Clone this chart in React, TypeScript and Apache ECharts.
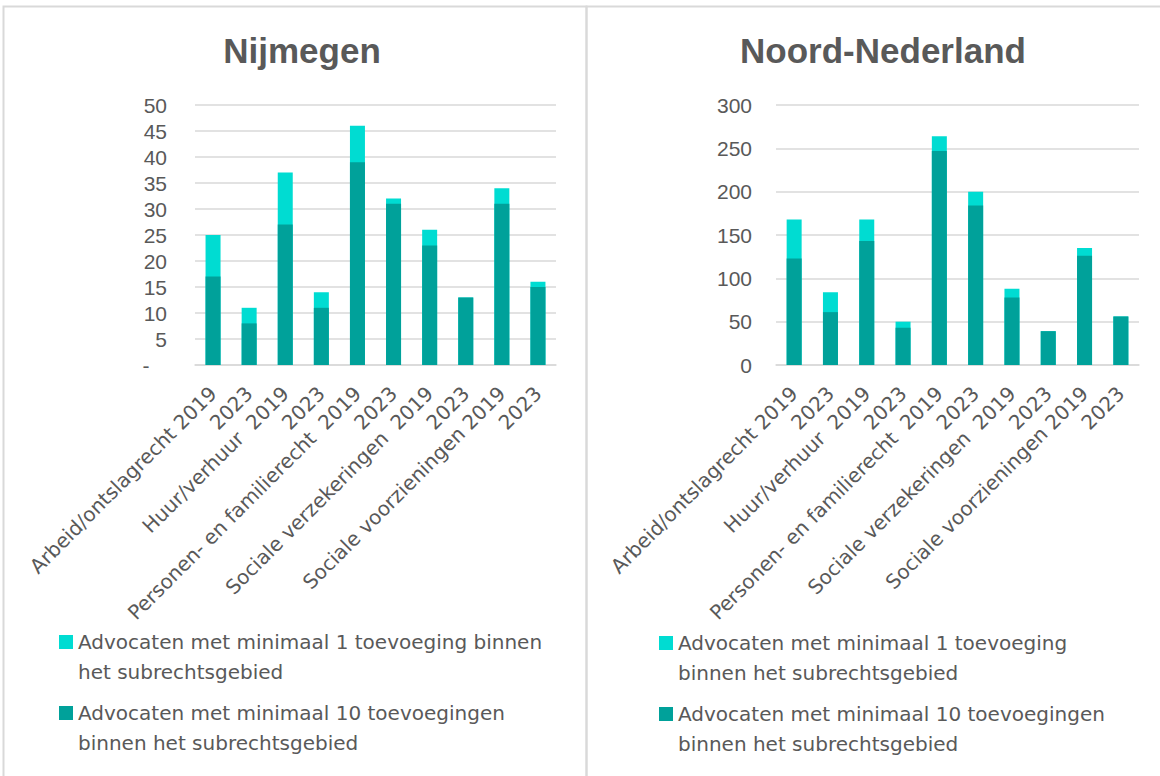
import React, { useEffect, useRef } from "react";
import * as echarts from "echarts";

const categories = [
  "Arbeid/ontslagrecht 2019",
  "2023",
  "Huur/verhuur  2019",
  "2023",
  "Personen- en familierecht  2019",
  "2023",
  "Sociale verzekeringen  2019",
  "2023",
  "Sociale voorzieningen 2019",
  "2023",
];

const nijmegenMin1 = [25, 11, 37, 14, 46, 32, 26, 13, 34, 16];
const nijmegenMin10 = [17, 8, 27, 11, 39, 31, 23, 13, 31, 15];
const noordMin1 = [168, 84, 168, 50, 264, 200, 88, 39, 135, 56];
const noordMin10 = [123, 61, 143, 43, 247, 184, 78, 39, 126, 56];

const titles = ["Nijmegen", "Noord-Nederland"];
const NAME1 = "Advocaten met minimaal 1 toevoeging binnen het subrechtsgebied";
const NAME10 = "Advocaten met minimaal 10 toevoegingen binnen het subrechtsgebied";

const LIGHT = "#00DCD2";
const DARK = "#00A19A";
const TEXT = "#595959";
const LINE = "#d9d9d9";
const FONT = "'Liberation Sans', Arial, sans-serif";
const WIDE = "'DejaVu Sans', Verdana, sans-serif";

export default function App() {
  const ref = useRef<HTMLDivElement>(null);
  useEffect(() => {
    if (!ref.current) return;
    const chart = echarts.init(ref.current, undefined, { renderer: "svg" });

    const wrapLeft: Record<string, string> = {
      [NAME1]: "Advocaten met minimaal 1 toevoeging binnen\nhet subrechtsgebied",
      [NAME10]: "Advocaten met minimaal 10 toevoegingen\nbinnen het subrechtsgebied",
    };
    const wrapRight: Record<string, string> = {
      [NAME1]: "Advocaten met minimaal 1 toevoeging\nbinnen het subrechtsgebied",
      [NAME10]: "Advocaten met minimaal 10 toevoegingen\nbinnen het subrechtsgebied",
    };

    const legendBase = {
      orient: "vertical",
      padding: 0,
      itemWidth: 14,
      itemHeight: 44,
      itemGap: 11,
      icon: "path://M0,0H14V14H0Z M0,44L0,44",
      selectedMode: false,
      data: [NAME1, NAME10],
      textStyle: { fontSize: 20, lineHeight: 30, color: TEXT, fontFamily: WIDE },
    };

    const xAxisBase = (gridIndex: number) => ({
      gridIndex,
      type: "category",
      data: categories,
      axisTick: { show: false },
      axisLine: { lineStyle: { color: LINE, width: 1.5 } },
      axisLabel: { rotate: 45, fontSize: 20, color: TEXT, margin: 25, interval: 0, fontFamily: WIDE },
    });

    const barBase = (name: string, color: string, data: number[], idx: number) => ({
      name,
      type: "bar",
      xAxisIndex: idx,
      yAxisIndex: idx,
      data,
      barWidth: 15,
      barGap: "-100%",
      itemStyle: { color },
    });

    chart.setOption({
      animation: false,
      textStyle: { fontFamily: FONT },
      title: [
        {
          text: titles[0],
          left: 297,
          top: 28,
          textAlign: "center",
          textStyle: { fontSize: 35, fontWeight: "bold", color: TEXT, fontFamily: FONT },
        },
        {
          text: titles[1],
          left: 878,
          top: 28,
          textAlign: "center",
          textStyle: { fontSize: 35, fontWeight: "bold", color: TEXT, fontFamily: FONT },
        },
      ],
      legend: [
        { ...legendBase, left: 59, top: 627, formatter: (n: string) => wrapLeft[n] },
        { ...legendBase, left: 659, top: 628, formatter: (n: string) => wrapRight[n] },
      ],
      grid: [
        { left: 195, top: 105, width: 361, height: 260 },
        { left: 776, top: 105, width: 363, height: 260 },
      ],
      xAxis: [xAxisBase(0), xAxisBase(1)],
      yAxis: [
        {
          gridIndex: 0,
          type: "value",
          min: 0,
          max: 50,
          interval: 5,
          axisLine: { show: false },
          axisTick: { show: false },
          splitLine: { lineStyle: { color: LINE, width: 1.5 } },
          axisLabel: {
            fontSize: 21,
            color: TEXT,
            margin: 28,
            fontFamily: FONT,
            formatter: (v: number) => (v === 0 ? "-   " : String(v)),
          },
        },
        {
          gridIndex: 1,
          type: "value",
          min: 0,
          max: 300,
          interval: 50,
          axisLine: { show: false },
          axisTick: { show: false },
          splitLine: { lineStyle: { color: LINE, width: 1.5 } },
          axisLabel: { fontSize: 21, color: TEXT, margin: 24, fontFamily: FONT },
        },
      ],
      series: [
        barBase(NAME1, LIGHT, nijmegenMin1, 0),
        barBase(NAME10, DARK, nijmegenMin10, 0),
        barBase(NAME1, LIGHT, noordMin1, 1),
        barBase(NAME10, DARK, noordMin10, 1),
      ],
      graphic: [
        {
          type: "rect",
          shape: { x: 3.5, y: 6.5, width: 583, height: 800 },
          style: { fill: "none", stroke: LINE, lineWidth: 2 },
          silent: true,
        },
        {
          type: "rect",
          shape: { x: 586.5, y: 6.5, width: 600, height: 800 },
          style: { fill: "none", stroke: LINE, lineWidth: 2 },
          silent: true,
        },
      ],
    });
    return () => chart.dispose();
  }, []);
  return (
    <div
      ref={ref}
      style={{ position: "absolute", left: 0, top: 0, width: 1160, height: 776, background: "#fff" }}
    />
  );
}
